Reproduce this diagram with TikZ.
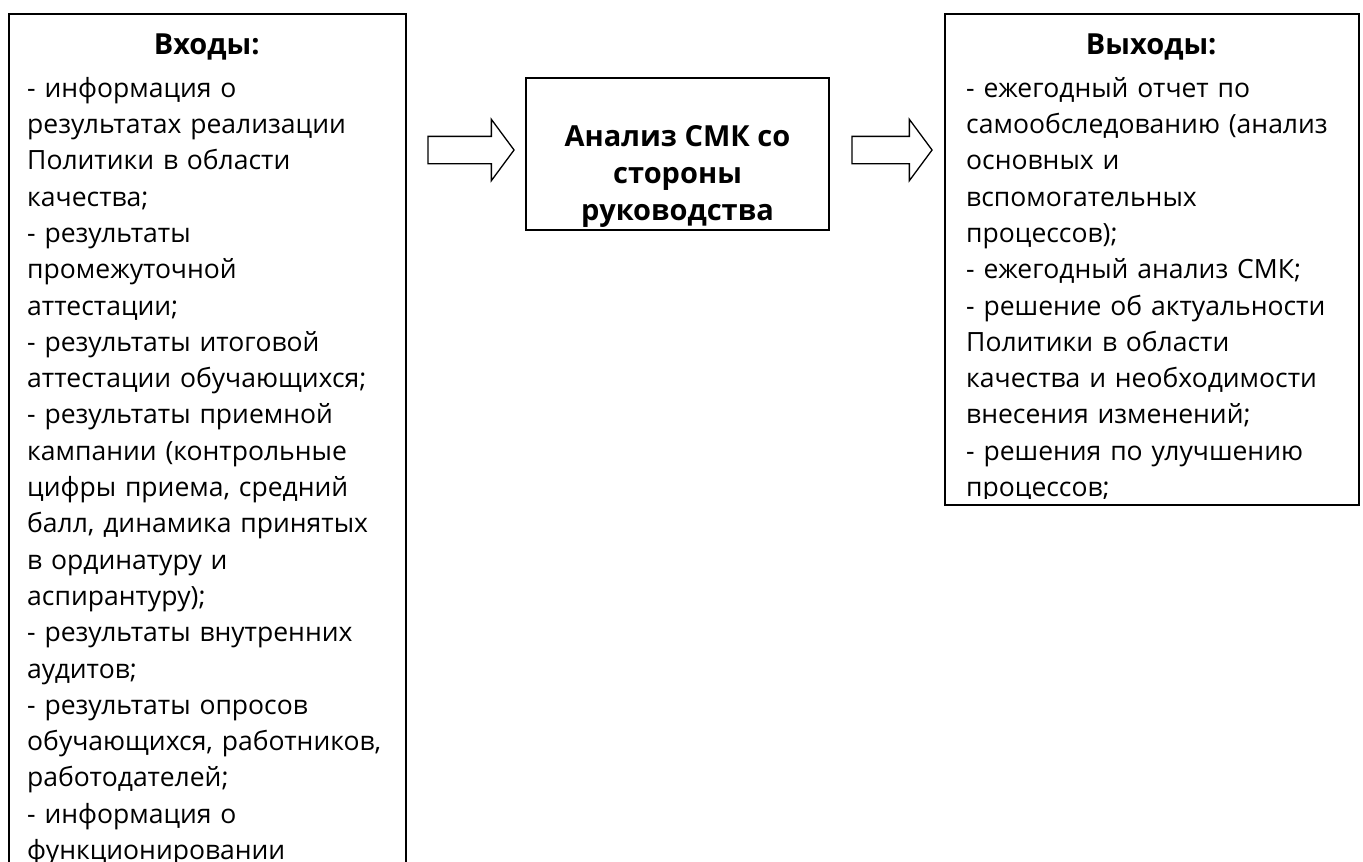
\documentclass[tikz,border=0pt]{standalone}
\usepackage{fontspec}
\setmainfont{Open Sans}
\usetikzlibrary{positioning,shapes.arrows}

\begin{document}
\begin{tikzpicture}[x=1pt, y=-1pt,
  box/.style={draw, line width=1.6pt, inner sep=0pt},
  listtext/.style={inner sep=0pt, align=left, font=\fontsize{26.5}{36.3}\selectfont},
  midtext/.style={inner sep=0pt, align=center, font=\fontsize{29}{37}\selectfont\bfseries},
  bigarrow/.style={draw, fill=white, line width=1.3pt, single arrow, single arrow head extend=17pt, single arrow tip angle=107, inner xsep=0pt, inner ysep=13pt, minimum width=60pt}
]
  \useasboundingbox (0,0) rectangle (1363,862);

  % inputs, the box runs off the page
  \node[box, anchor=north west, minimum width=397pt, minimum height=900pt] (inbox) at (8,13) {};
  \node[listtext, text width=380pt, below right=20.3pt and 19pt of inbox.north west] (intext) {\makebox[359pt]{\fontsize{29}{36}\selectfont\bfseries Входы:}\\[6.7pt]
    - информация о\\
    результатах реализации\\
    Политики в области\\
    качества;\\
    - результаты\\
    промежуточной\\
    аттестации;\\
    - результаты итоговой\\
    аттестации обучающихся;\\
    - результаты приемной\\
    кампании (контрольные\\
    цифры приема, средний\\
    балл, динамика принятых\\
    в ординатуру и\\
    аспирантуру);\\
    - результаты внутренних\\
    аудитов;\\
    - результаты опросов\\
    обучающихся, работников,\\
    работодателей;\\
    - информация о\\
    функционировании};

  % process
  \node[box, minimum width=303pt, minimum height=152pt] (review) at (677.5,154) {};
  \node[midtext, below=48pt of review.north] (reviewtext) {Анализ СМК со\\стороны\\руководства};

  \node[bigarrow, minimum height=86pt] (toreview) at (466,150) {};
  \node[bigarrow, minimum height=80pt] (fromreview) at (887,150) {};

  % outputs
  \node[box, anchor=north west, minimum width=414pt, minimum height=491pt] (outbox) at (944,13) {};
  \begin{scope}
    \clip (outbox.north west) rectangle ([yshift=7pt]outbox.south east);
    \node[listtext, text width=385pt, below right=20.3pt and 22pt of outbox.north west] (outtext) {\makebox[370pt]{\fontsize{29}{36}\selectfont\bfseries Выходы:}\\[6.7pt]
      - ежегодный отчет по\\
      самообследованию (анализ\\
      основных и\\
      вспомогательных\\
      процессов);\\
      - ежегодный анализ СМК;\\
      - решение об актуальности\\
      Политики в области\\
      качества и необходимости\\
      внесения изменений;\\
      - решения по улучшению\\
      процессов;};
  \end{scope}
\end{tikzpicture}
\end{document}
